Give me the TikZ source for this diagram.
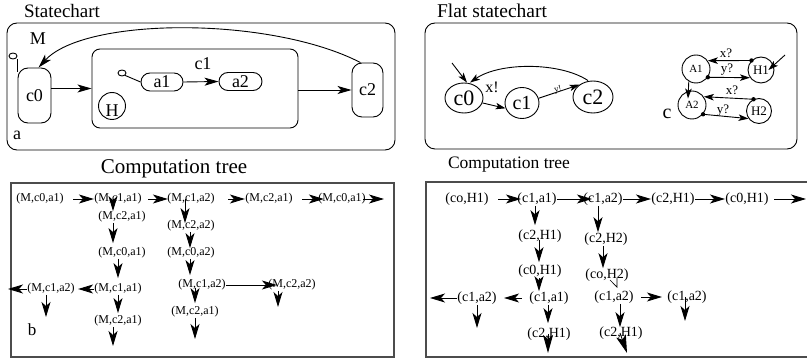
\documentclass[tikz,border=0pt]{standalone}
\usepackage{fontspec}
\setmainfont{Liberation Serif}
\usetikzlibrary{arrows.meta,shapes.geometric}
\newcommand\fsz[1]{\fontsize{#1}{#1}\selectfont}
\begin{document}
\begin{tikzpicture}[x=1pt,y=-1pt,line width=0.9pt,
  arr/.style={-{Stealth[length=14pt,width=8pt,inset=3.5pt]}},
  sarr/.style={-{Stealth[length=10pt,width=6.5pt,inset=2.5pt]}},
  tarr/.style={-{Stealth[length=15pt,width=9pt,inset=4pt]}},
  barr/.style={-{Stealth[length=18pt,width=10pt,inset=4pt]}},
  rstate/.style={draw,rounded corners=10pt,inner sep=0pt,font=\fsz{18}},
  pstate/.style={draw,rounded corners=9pt,inner sep=0pt,font=\fsz{18}},
  init/.style={draw,ellipse,minimum width=8,minimum height=6,inner sep=0pt},
  fstate/.style={draw,ellipse,inner sep=0pt},
  sc/.style={draw,circle,inner sep=0pt},
  tl/.style={inner sep=0pt,font=\fsz{12}},
  tr/.style={inner sep=0pt,font=\fsz{14}},
  treebox/.style={line width=1.3pt,black!70}]
\useasboundingbox (0,0) rectangle (807,358);

% ---------------- Statechart ----------------
\draw[rounded corners=10pt] (7,23) rectangle (395,150);
\node[font=\fsz{19}] (t1) at (62,11) {Statechart};
\node[font=\fsz{18}] (M) at (38,39) {M};
\node[init] (i0) at (13,56) {};
\node[rstate,minimum width=33,minimum height=55] (c0) at (34.5,95.5) {c0};
\draw (i0.south -| c0.west) -- ([yshift=-4pt]c0.north west);
\node[font=\fsz{18}] (a) at (17,135) {a};
\node[draw,rounded corners=8pt,minimum width=206,minimum height=79,inner sep=0pt] (C1) at (195,88.5) {};
\node[font=\fsz{18}] (c1l) at (203,64) {c1};
\node[init] (i1) at (122,73) {};
\node[pstate,minimum width=42,minimum height=18] (a1) at (162,82) {a1};
\node[pstate,minimum width=43,minimum height=18] (a2) at (240.5,81.5) {a2};
\draw (i1.south east) -- (a1.west);
\draw[arr] (a1.east) -- (a2.west);
\node[sc,minimum size=27] (Hc) at (112,106) {};
\node[font=\fsz{18}] (Hl) at ([yshift=-5pt]Hc.center) {H};
\node[rstate,minimum width=31,minimum height=54] (c2) at (367.5,90) {c2};
\draw[arr] (c0.east |- C1.west) -- (C1.west);
\draw[arr] (C1.east |- c2.west) -- (c2.west);
\draw[arr] ([xshift=-7pt]c2.north) .. controls (270,16) and (85,17) .. ([xshift=4pt]c0.north);

% ---------------- Flat statechart ----------------
\draw[rounded corners=10pt] (425,23) rectangle (797,149);
\node[font=\fsz{19.5}] (t2) at (492,11) {Flat statechart};
\node[fstate,minimum width=38,minimum height=30,font=\fsz{22}] (f0) at (464,98) {c0};
\node[fstate,minimum width=34,minimum height=31,font=\fsz{20}] (f1) at (522,103) {c1};
\node[fstate,minimum width=40,minimum height=32,font=\fsz{22}] (f2) at (593,97) {c2};
\coordinate (f0in) at (452,63);
\draw[sarr] (f0in) -- ([xshift=3pt]f0.north);
\draw[sarr] (f0.-15) -- (f1.198);
\node[font=\fsz{16}] (xl) at (492,87) {x!};
\draw[sarr] (f1.16) -- (f2.138);
\node[font=\fsz{9},rotate=14] (yl) at (558,90) {y!};
\draw[sarr] ([xshift=-5pt]f2.north) .. controls (560,62) and (500,62) .. ([xshift=6pt]f0.north);

\node[sc,minimum size=28,font=\fsz{11}] (A1) at (696,69) {A1};
\node[sc,minimum size=26,font=\fsz{13}] (H1) at (761,70) {H1};
\node[sc,minimum size=28,font=\fsz{11}] (A2) at (692,105) {A2};
\node[sc,minimum size=25,font=\fsz{13}] (H2) at (759,111) {H2};
\draw[sarr] (H1.135) -- (A1.35);
\draw[sarr] (A1.-35) -- (H1.-145);
\draw[sarr] (A1.240) -- ([xshift=-4pt,yshift=-8pt]A2.north);
\draw[sarr] (H2.115) -- (A2.35);
\draw[sarr] (A2.-40) -- (H2.-144);
\fill (H1.135) circle[radius=2.2pt];
\fill (A1.-35) circle[radius=2.2pt];
\fill (H2.115) circle[radius=2.2pt];
\fill (A2.-40) circle[radius=2.2pt];
\node[font=\fsz{13}] (lx1) at (726,53) {x?};
\node[font=\fsz{13}] (ly1) at (727,70) {y?};
\node[font=\fsz{13}] (lx2) at (732,90) {x?};
\node[font=\fsz{13}] (ly2) at (723,111) {y?};
\coordinate (h1in) at (785,55);
\draw[sarr] (h1in) -- ([xshift=-6pt]H1.east);
\node[font=\fsz{20}] (cl) at (667,114) {c};

% ---------------- Computation tree (left) ----------------
\draw[treebox] (11,183) rectangle (394,357);
\node[font=\fsz{21}] (t3) at (174,169) {Computation tree};
\node[tl] (r0) at (40,199) {(M,c0,a1)};
\node[tl] (r1) at (118,199) {(M,c1,a1)};
\node[tl] (r2) at (191,199) {(M,c1,a2)};
\node[tl] (r3) at (269,199) {(M,c2,a1)};
\node[tl] (r4) at (342,199) {(M,c0,a1)};
\coordinate (r5) at (384,199);
\draw[tarr] ([xshift=9pt]r0.east) -- (r1.west);
\draw[tarr] ([xshift=6pt]r1.east) -- ([xshift=1pt]r2.west);
\draw[tarr] ([xshift=13pt]r2.east) -- (r3.west);
\draw[tarr] ([xshift=9pt]r3.east) -- ([xshift=6pt]r4.west);
\draw[tarr] ([xshift=-3pt]r4.east) -- (r5);

\node[tl] (d1) at (122,217) {(M,c2,a1)};
\node[tl] (d2) at (122,253) {(M,c0,a1)};
\node[tl] (d3) at (118,289) {(M,c1,a1)};
\node[tl] (d4) at (118,321) {(M,c2,a1)};
\coordinate (e1) at (113,346);
\draw[tarr] ([xshift=-5pt]r1.center) -- ([xshift=-9pt]d1.north);
\draw[tarr] ([xshift=-9pt]d1.south) -- ([xshift=-9pt,yshift=4pt]d2.north);
\draw[tarr] ([xshift=-4pt]d2.south) -- ([yshift=5pt]d3.north);
\draw[tarr] (d3.south) -- ([yshift=2pt]d4.north);
\draw[tarr] ([xshift=-5pt]d4.south) -- (e1);

\node[tl] (l1) at (51,289) {(M,c1,a2)};
\coordinate (l1w) at (8,289);
\coordinate (l1s) at (46,317);
\draw[tarr] (d3.west) -- ([xshift=3pt]l1.east);
\draw[tarr] (l1.west) -- (l1w);
\draw[tarr] ([xshift=-5pt]l1.south) -- (l1s);
\node[font=\fsz{17}] (b) at (32,330) {b};

\node[tl] (m1) at (191,226) {(M,c2,a2)};
\node[tl] (m2) at (191,253) {(M,c0,a2)};
\node[tl] (m3) at (202,285) {(M,c1,a2)};
\node[tl] (m4) at (292,285) {(M,c2,a2)};
\node[tl] (m5) at (195,312) {(M,c2,a1)};
\coordinate (m4s) at (278,307);
\coordinate (m5s) at (195,339);
\draw[tarr] ([xshift=-6pt]r2.center) -- ([xshift=-6pt,yshift=-3pt]m1.north);
\draw[tarr] ([xshift=-1pt]m1.south) -- ([xshift=-1pt,yshift=-1pt]m2.north);
\draw[tarr] ([xshift=-1pt]m2.south) -- ([xshift=-12pt,yshift=4pt]m3.north);
\draw[tarr] (m3.east) -- ([xshift=9pt]m4.west);
\draw[tarr] ([xshift=-14pt]m4.south) -- (m4s);
\draw[tarr] ([xshift=-7pt,yshift=-3pt]m3.center) -- ([yshift=3pt]m5.north);
\draw[tarr] (m5.south) -- (m5s);

% ---------------- Computation tree (right) ----------------
\draw[treebox] (812,182) -- (426,182) -- (426,357) -- (812,357);
\node[font=\fsz{17.5}] (t4) at (509,165) {Computation tree};
\node[tr] (R0) at (467,199) {(co,H1)};
\node[tr] (R1) at (537,199) {(c1,a1)};
\node[tr] (R2) at (603,199) {(c1,a2)};
\node[tr] (R3) at (673,199) {(c2,H1)};
\node[tr] (R4) at (747,199) {(c0,H1)};
\coordinate (R5) at (806,199);
\draw[tarr] ([xshift=9pt]R0.east) -- ([xshift=4pt]R1.west);
\draw[tarr] (R1.east) -- ([xshift=9pt]R2.west);
\draw[tarr] (R2.east) -- (R3.west);
\draw[tarr] (R3.east) -- (R4.west);
\draw[tarr] ([xshift=5pt]R4.east) -- (R5);

\node[tr] (S1) at (540,236) {(c2,H1)};
\node[tr] (S2) at (540,271) {(c0,H1)};
\node[tr] (S3) at (549,298) {(c1,a1)};
\node[tr] (S4) at (549,334) {(c2,H1)};
\coordinate (S4s) at (548,353);
\draw[tarr] ([xshift=-2pt]R1.south) -- ([xshift=-5pt,yshift=4pt]S1.north);
\draw[tarr] ([xshift=-1pt,yshift=3pt]S1.south) -- ([xshift=-1pt,yshift=2pt]S2.north);
\draw[tarr] ([xshift=-1pt]S2.south) -- ([xshift=-10pt]S3.north);
\draw[tarr] ([xshift=-1pt]S3.south) -- ([xshift=-1pt,yshift=4pt]S4.north);
\draw[barr] ([xshift=-1pt]S4.center) -- (S4s);

\node[tr] (L1) at (477,298) {(c1,a2)};
\coordinate (L1w) at (430,298);
\coordinate (L1s) at (477,328);
\draw[tarr] ([xshift=-7pt]S3.west) -- ([xshift=7pt]L1.east);
\draw[tarr] (L1.west) -- (L1w);
\draw[tarr] (L1.south) -- (L1s);

\node[tr] (T1) at (606,239) {(c2,H2)};
\node[tr] (T2) at (607,275) {(co,H2)};
\node[tr] (T3) at (614,297) {(c1,a2)};
\node[tr] (T4) at (687,297) {(c1,a2)};
\node[tr] (T5) at (621,333) {(c2,H1)};
\coordinate (T4s) at (685,321);
\coordinate (T5s) at (627,353);
\draw[tarr] ([xshift=-5pt]R2.south) -- ([xshift=-8pt]T1.north);
\draw[tarr] ([xshift=-3pt]T1.south) -- ([xshift=-4pt]T2.north);
\draw[line width=0.6pt] ([xshift=10pt,yshift=-3pt]T2.center) -- ([xshift=3pt,yshift=3pt]T3.north) -- ([xshift=3pt,yshift=-5pt]T2.center);
\draw[tarr] ([xshift=7pt]T3.east) -- ([xshift=-5pt]T4.west);
\draw[tarr] ([xshift=-2pt]T4.center) -- (T4s);
\draw[tarr] ([xshift=6pt]T3.south) -- ([xshift=-1pt,yshift=-1pt]T5.north);
\draw[barr] ([xshift=-1pt]T5.center) -- (T5s);
\end{tikzpicture}
\end{document}
